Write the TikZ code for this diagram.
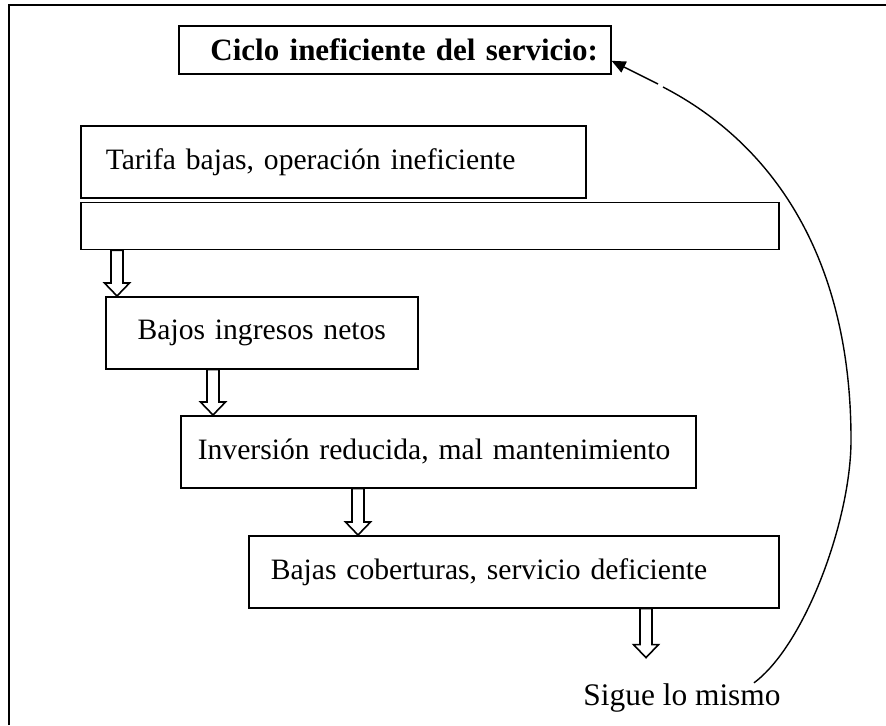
\documentclass[tikz,border=0pt]{standalone}
\usepackage{fontspec}
\setmainfont{Liberation Serif}
\usetikzlibrary{positioning, arrows.meta, calc}

\begin{document}
\begin{tikzpicture}[
        x=0.5pt, y=-0.5pt, % one unit = one pixel of the page
        caja/.style={draw, line width=0.8pt, anchor=north west, minimum height=36pt, align=left, font=\fontsize{14.8}{17}\selectfont}, % Box style
        hueca/.style={line width=0.8pt, to path={let \p1=(\tikztostart), \p2=(\tikztotarget) in
            (\x1-3pt,\y1) -- (\x1-3pt,\y2+6.5pt) -- (\x1-6.25pt,\y2+6.5pt) -- (\x1,\y2)
            -- (\x1+6.25pt,\y2+6.5pt) -- (\x1+3pt,\y2+6.5pt) -- (\x1+3pt,\y1) -- cycle}}, % Hollow arrow
        curva/.style={line width=0.7pt},
        flecha/.style={line width=0.7pt, -{Triangle[length=7pt, width=6pt]}} % Arrow style
    ]

    \useasboundingbox (0,0) rectangle (886,725);

    % Frame (only its top and left sides are on the page)
    \draw[line width=1.2pt] (9,725) -- (9,5) -- (886,5);

    % Title
    \node[caja, font=\bfseries\fontsize{15.5}{18}\selectfont, align=right, text width=203pt, inner xsep=6.5pt, minimum height=24pt] (titulo) at (178,25) {Ciclo ineficiente del servicio:};

    % Steps of the cycle
    \node[caja, text width=227.5pt, inner xsep=12.5pt] (tarifa) at (80,125) {Tarifa bajas, operación ineficiente};
    \node[caja, below=1.5pt of tarifa.south west, anchor=north west, minimum width=349pt, minimum height=23.5pt, inner sep=0pt] (vacia) {};
    \node[caja, text width=156pt, inner xsep=0pt, align=center] (bajos) at (105,296) {Bajos ingresos netos};
    \node[caja, text width=240.5pt, inner xsep=8.5pt] (inversion) at (180,415) {Inversión reducida, mal mantenimiento};
    \node[caja, text width=243pt, inner xsep=11pt] (bajas) at (248,535) {Bajas coberturas, servicio deficiente};

    % Hollow arrows
    \draw[hueca] ([xshift=18.5pt]vacia.south west) to (bajos.north);
    \draw[hueca] ([xshift=54pt]bajos.south west) to (inversion.north);
    \draw[hueca] ([xshift=89pt]inversion.south west) to (bajas.north);
    \coordinate (fin) at ([yshift=-24.5pt]bajas.south);
    \draw[hueca] ([xshift=199pt]bajas.south west) to (fin);

    % Back to the start
    \node[font=\fontsize{15.7}{18}\selectfont, inner sep=0pt, anchor=base west] (sigue) at (583,705) {Sigue lo mismo};
    \coordinate (cola) at (663,87);
    \coordinate (punta) at (658,84);
    \draw[curva] ([xshift=-13.5pt]sigue.north east) .. controls (805,645) and (851,520) .. (851,440)
        .. controls (851,260) and (775,145) .. (cola);
    \draw[flecha] (punta) -- ([yshift=-5.5pt]titulo.east);

\end{tikzpicture}
\end{document}
